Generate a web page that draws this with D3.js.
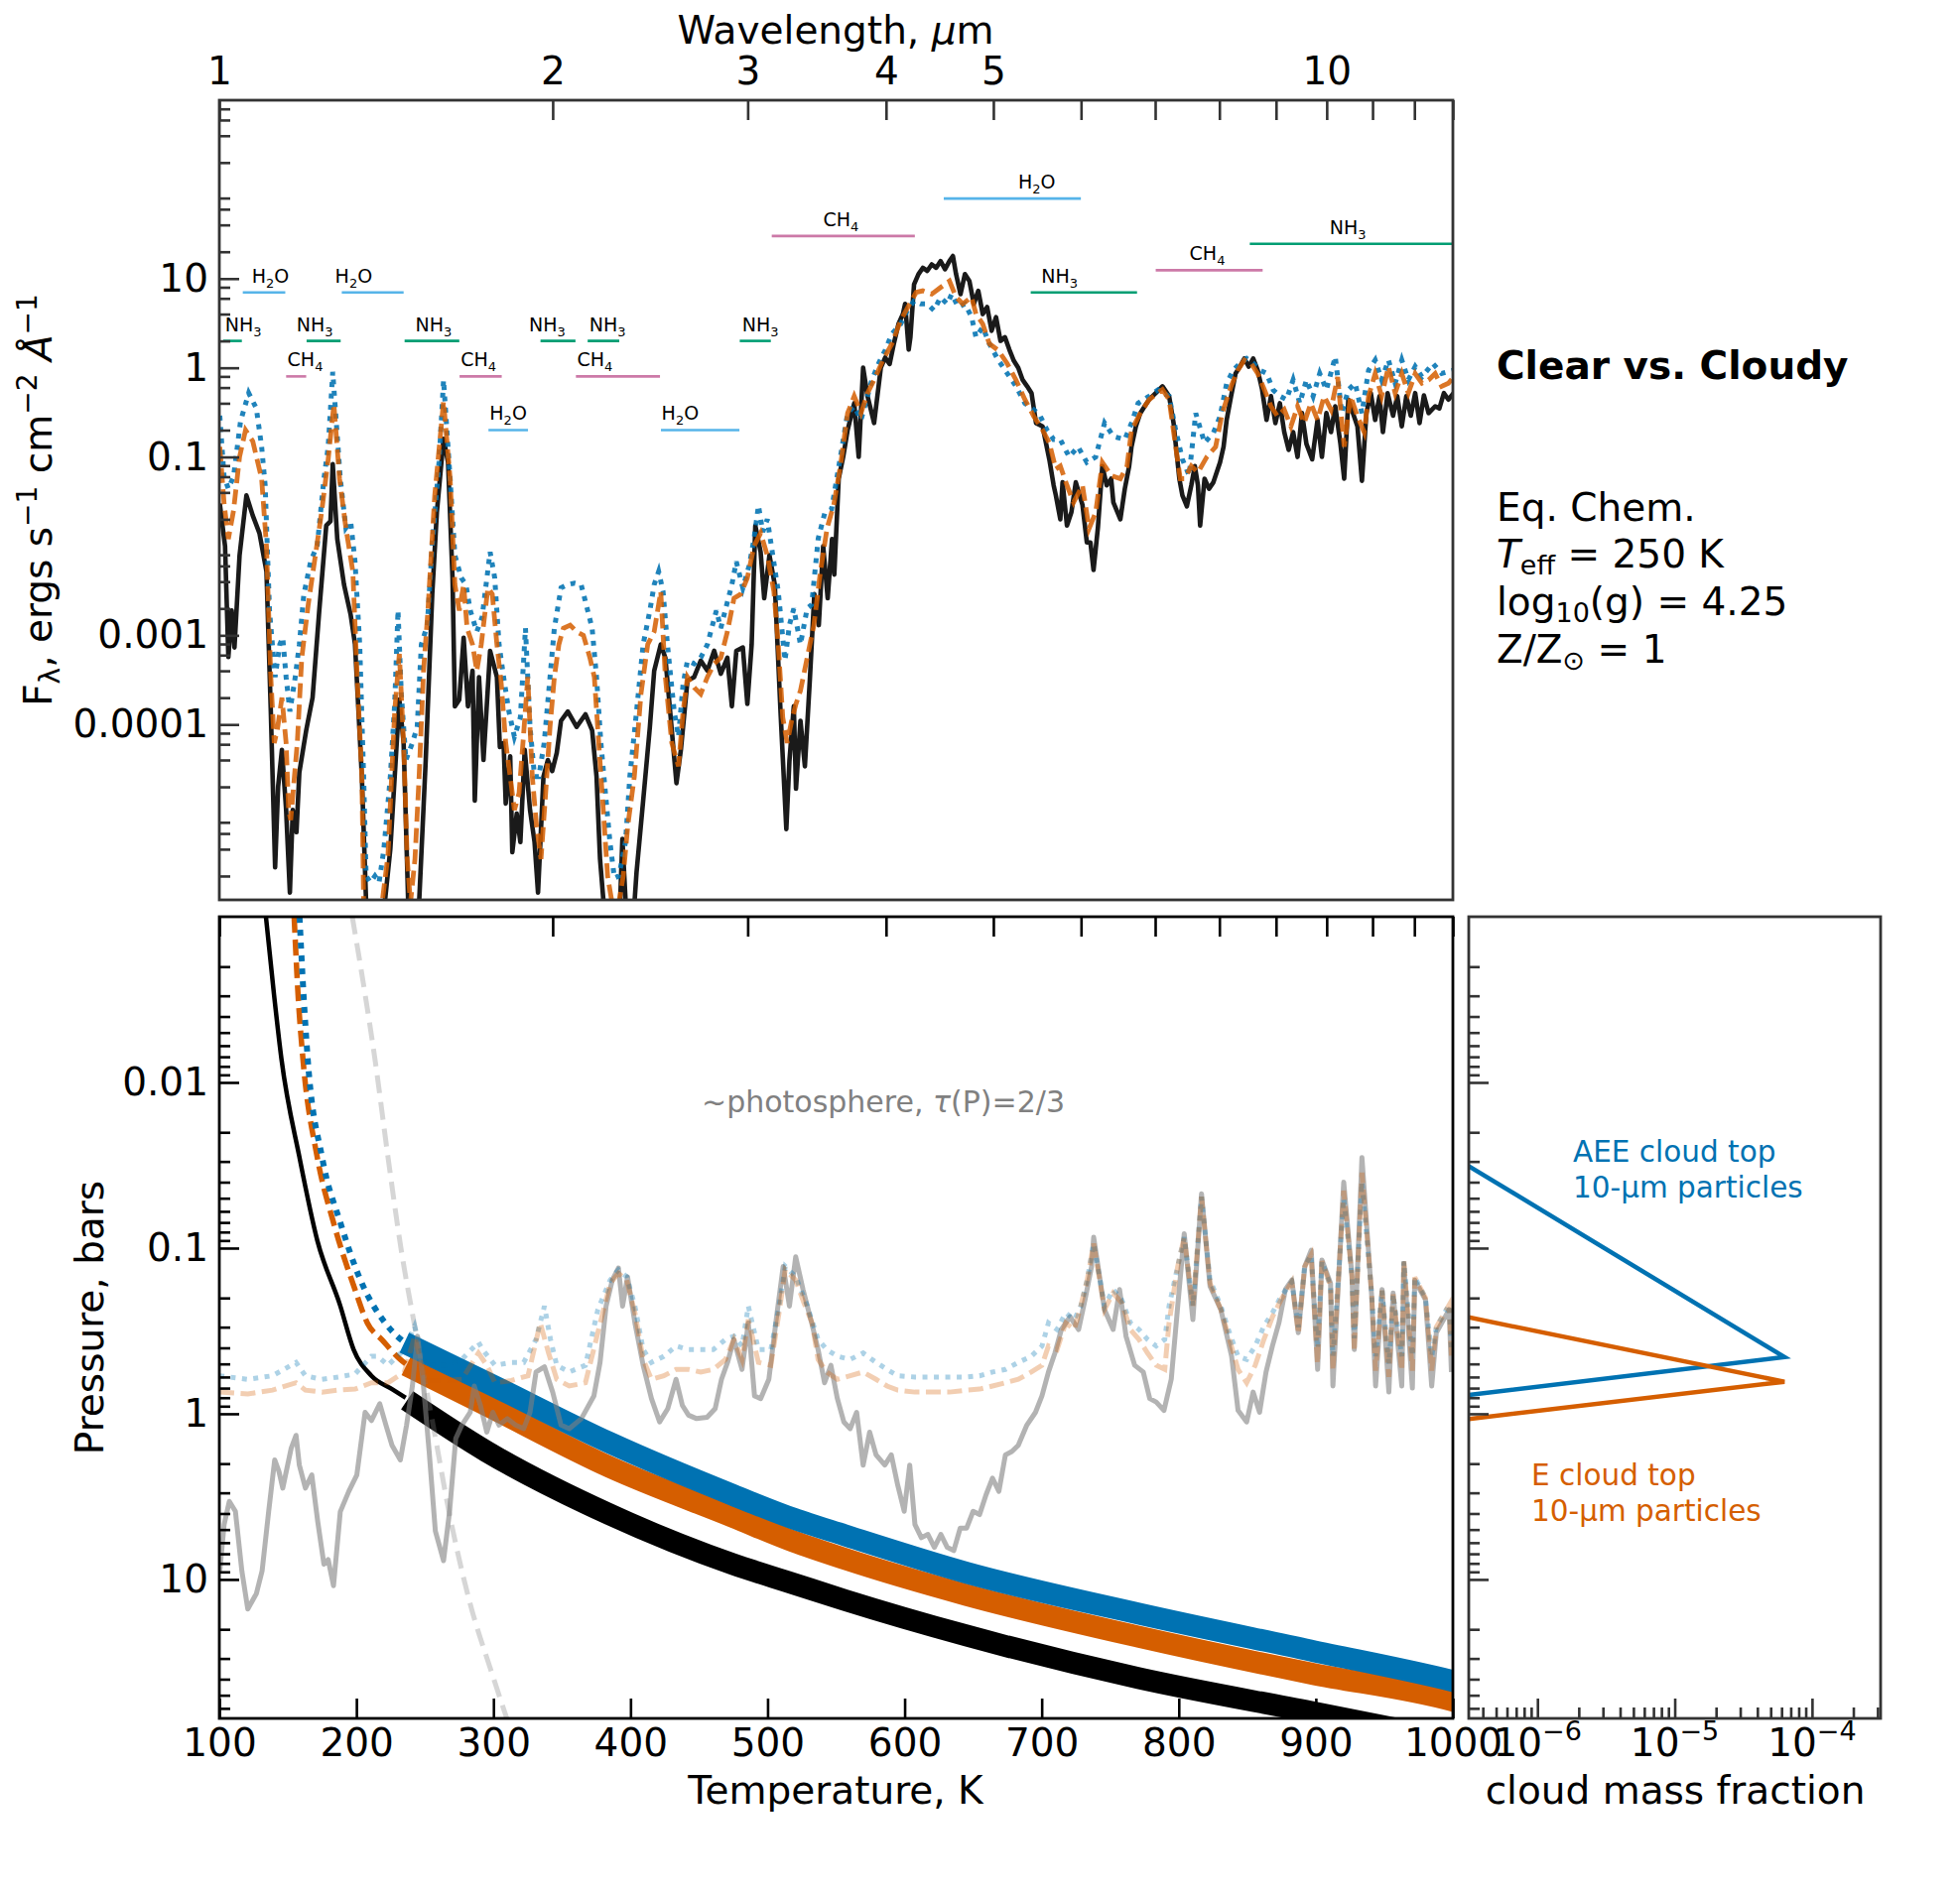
<!DOCTYPE html>
<html>
<head>
<meta charset="utf-8">
<script src="https://cdn.jsdelivr.net/npm/d3@7"></script>
<style>
body { margin: 0; background: #fff; }
text { font-family: "DejaVu Sans", sans-serif; }
</style>
</head>
<body>
<svg width="1975" height="1910"></svg>
<script>
// ---------- data ----------
// emergent spectra: [wavelength um, F_lambda]
var specClear = [[1.001,0.030],[1.012,0.010],[1.019,5.7e-4],[1.026,1.9e-3],[1.032,7.3e-4],[1.043,7.9e-3],[1.058,0.037],[1.072,0.022],[1.087,0.014],[1.103,5.2e-3],[1.113,1.4e-4],[1.123,2.5e-6],[1.130,2.0e-5],[1.139,5.2e-5],[1.149,1.1e-5],[1.158,1.3e-6],[1.165,1.1e-5],[1.174,6.2e-6],[1.181,2.9e-5],[1.198,8.6e-5],[1.214,2.0e-4],[1.231,1.9e-3],[1.249,0.017],[1.260,0.019],[1.266,0.083],[1.278,0.012],[1.296,3.7e-3],[1.314,1.7e-3],[1.326,7.9e-4],[1.345,2.6e-5],[1.357,1.0e-6],[1.400,4e-7],[1.427,4.0e-6],[1.454,1.9e-4],[1.467,6.2e-5],[1.481,1.0e-6],[1.500,4e-7],[1.515,1.0e-6],[1.536,4.0e-5],[1.557,2.9e-3],[1.572,0.024],[1.594,0.16],[1.609,0.087],[1.624,4.4e-3],[1.632,1.6e-4],[1.647,1.9e-4],[1.662,9.4e-4],[1.677,1.6e-4],[1.693,4.0e-4],[1.701,1.4e-5],[1.716,3.4e-4],[1.732,4.0e-5],[1.756,6.7e-4],[1.781,3.4e-4],[1.792,5.6e-5],[1.806,6.2e-5],[1.814,1.3e-5],[1.831,4.4e-5],[1.839,3.7e-6],[1.856,1.0e-5],[1.870,4.8e-6],[1.887,5.2e-5],[1.908,1.1e-5],[1.926,4.8e-6],[1.940,1.3e-6],[1.962,2.6e-5],[1.980,4.0e-5],[1.998,3.0e-5],[2.017,4.8e-5],[2.035,1.1e-4],[2.064,1.4e-4],[2.102,9.4e-5],[2.141,1.3e-4],[2.171,8.6e-5],[2.191,2.6e-5],[2.207,3.1e-6],[2.222,1.1e-6],[2.253,4e-7],[2.295,4e-7],[2.312,5.2e-6],[2.327,1.1e-6],[2.359,4e-7],[2.381,2.2e-6],[2.414,1.4e-5],[2.448,9.4e-5],[2.470,4.0e-4],[2.504,7.9e-4],[2.528,5.6e-4],[2.551,1.6e-4],[2.587,2.2e-5],[2.611,5.2e-5],[2.647,3.1e-4],[2.684,3.4e-4],[2.721,5.2e-4],[2.759,4.0e-4],[2.798,6.7e-4],[2.837,3.7e-4],[2.876,5.6e-4],[2.903,1.6e-4],[2.930,6.7e-4],[2.970,7.3e-4],[2.998,1.7e-4],[3.025,7.9e-4],[3.048,0.017],[3.082,8.6e-3],[3.105,2.6e-3],[3.139,7.9e-3],[3.174,3.7e-3],[3.212,1.4e-4],[3.251,6.7e-6],[3.272,3.9e-5],[3.302,1.6e-4],[3.317,1.9e-5],[3.348,1.1e-4],[3.379,3.4e-5],[3.415,3.4e-4],[3.446,2.9e-3],[3.478,1.3e-3],[3.510,0.010],[3.543,2.6e-3],[3.575,0.012],[3.592,4.8e-3],[3.625,0.057],[3.659,0.10],[3.693,0.20],[3.744,0.40],[3.779,0.10],[3.814,1.0],[3.849,0.48],[3.902,0.24],[3.957,1.0],[3.993,1.3],[4.030,1.1],[4.067,1.9],[4.105,3.1],[4.143,4.0],[4.162,5.2],[4.193,1.6],[4.208,2.2],[4.240,8.6],[4.279,11.2],[4.318,13.2],[4.358,12.2],[4.399,14.4],[4.439,13.2],[4.480,15.7],[4.522,12.7],[4.564,15.7],[4.597,17.9],[4.627,11.2],[4.670,6.7],[4.713,11.2],[4.757,9.4],[4.801,5.2],[4.846,7.3],[4.891,4.0],[4.936,4.8],[4.982,2.6],[5.028,3.7],[5.075,2.0],[5.122,2.2],[5.169,1.6],[5.217,1.2],[5.266,1.0],[5.314,0.73],[5.364,0.62],[5.413,0.52],[5.464,0.24],[5.539,0.22],[5.617,0.094],[5.668,0.048],[5.694,0.037],[5.747,0.020],[5.774,0.052],[5.827,0.017],[5.881,0.024],[5.935,0.052],[6.018,0.029],[6.073,0.011],[6.118,0.011],[6.158,5.4e-3],[6.214,0.016],[6.272,0.079],[6.329,0.048],[6.388,0.057],[6.417,0.031],[6.511,0.020],[6.572,0.044],[6.632,0.079],[6.664,0.13],[6.725,0.22],[6.787,0.31],[6.849,0.37],[6.913,0.44],[7.009,0.52],[7.107,0.62],[7.206,0.48],[7.273,0.24],[7.320,0.11],[7.361,0.057],[7.408,0.037],[7.477,0.028],[7.546,0.048],[7.602,0.079],[7.651,0.048],[7.686,0.017],[7.757,0.057],[7.829,0.044],[7.901,0.052],[8.011,0.087],[8.070,0.13],[8.122,0.26],[8.197,0.48],[8.273,0.86],[8.349,1.03],[8.426,1.27],[8.505,1.03],[8.583,1.27],[8.663,0.94],[8.743,0.57],[8.824,0.26],[8.906,0.48],[8.988,0.24],[9.072,0.40],[9.155,0.19],[9.240,0.12],[9.326,0.19],[9.412,0.10],[9.499,0.31],[9.587,0.14],[9.703,0.094],[9.811,0.26],[9.901,0.10],[9.993,0.31],[10.09,0.19],[10.18,0.37],[10.29,0.14],[10.37,0.057],[10.46,0.44],[10.56,0.31],[10.66,0.22],[10.76,0.054],[10.86,0.31],[10.96,0.52],[11.06,0.26],[11.16,0.48],[11.24,0.19],[11.35,0.52],[11.48,0.29],[11.58,0.48],[11.69,0.22],[11.80,0.48],[11.91,0.29],[12.02,0.52],[12.13,0.24],[12.24,0.49],[12.36,0.31],[12.53,0.37],[12.64,0.35],[12.76,0.52],[12.88,0.44],[13.02,0.52]];

var specE = [[1.001,0.13],[1.010,0.03],[1.019,0.012],[1.030,0.025],[1.043,0.10],[1.056,0.20],[1.072,0.15],[1.092,0.057],[1.103,0.010],[1.113,3.4e-4],[1.121,6.2e-5],[1.128,8.6e-5],[1.139,2.0e-4],[1.149,6.2e-5],[1.155,1.1e-5],[1.160,8.5e-6],[1.169,2.6e-5],[1.176,6.2e-5],[1.187,5.6e-4],[1.203,2.2e-3],[1.220,7.3e-3],[1.237,0.024],[1.254,0.094],[1.269,0.39],[1.284,0.057],[1.301,0.016],[1.320,5.2e-3],[1.332,3.4e-4],[1.345,2.6e-5],[1.350,1.0e-6],[1.390,4e-7],[1.420,3.4e-6],[1.440,1.4e-4],[1.454,6.2e-4],[1.467,6.2e-5],[1.478,3.1e-6],[1.488,1.0e-6],[1.502,3.1e-6],[1.515,2.6e-5],[1.529,4.0e-4],[1.543,1.9e-3],[1.565,0.037],[1.594,0.42],[1.616,0.057],[1.632,3.7e-3],[1.647,1.9e-3],[1.662,3.7e-3],[1.674,1.2e-3],[1.693,7.9e-4],[1.708,4.0e-4],[1.724,7.9e-4],[1.748,3.4e-3],[1.764,2.9e-3],[1.781,7.9e-4],[1.797,2.9e-4],[1.814,6.2e-5],[1.831,2.6e-5],[1.847,1.1e-5],[1.865,1.7e-5],[1.882,7.3e-5],[1.899,3.4e-4],[1.917,2.6e-5],[1.934,7.3e-6],[1.952,3.1e-6],[1.971,1.7e-5],[1.989,9.4e-5],[2.007,3.4e-4],[2.026,7.9e-4],[2.045,1.2e-3],[2.074,1.3e-3],[2.102,1.1e-3],[2.132,1.0e-3],[2.161,5.6e-4],[2.181,3.4e-4],[2.201,6.2e-5],[2.222,1.1e-5],[2.242,2.0e-6],[2.263,1.0e-6],[2.295,1.0e-6],[2.316,2.0e-6],[2.338,7.3e-6],[2.370,2.6e-5],[2.403,2.2e-4],[2.437,7.9e-4],[2.470,1.1e-3],[2.504,3.1e-3],[2.528,3.4e-4],[2.562,6.2e-5],[2.598,3.4e-5],[2.623,1.4e-4],[2.647,3.4e-4],[2.684,2.6e-4],[2.721,2.2e-4],[2.759,3.4e-4],[2.798,4.8e-4],[2.837,5.6e-4],[2.876,1.1e-3],[2.916,2.6e-3],[2.957,2.9e-3],[2.998,4.4e-3],[3.040,0.010],[3.082,0.014],[3.125,7.9e-3],[3.168,3.1e-3],[3.197,7.9e-4],[3.227,1.2e-4],[3.257,6.2e-5],[3.287,1.1e-4],[3.317,1.7e-4],[3.348,2.4e-4],[3.395,5.6e-4],[3.443,1.3e-3],[3.490,5.2e-3],[3.539,0.016],[3.588,0.029],[3.638,0.079],[3.693,0.31],[3.744,0.48],[3.797,0.31],[3.849,0.52],[3.902,0.73],[3.975,1.22],[4.049,1.86],[4.124,3.4],[4.201,5.2],[4.259,7.0],[4.318,7.3],[4.399,6.7],[4.480,7.95],[4.564,9.4],[4.627,6.2],[4.692,5.2],[4.779,6.2],[4.823,4.0],[4.891,3.1],[4.959,1.86],[5.051,1.57],[5.145,1.12],[5.241,0.73],[5.339,0.44],[5.439,0.285],[5.539,0.20],[5.617,0.144],[5.694,0.073],[5.747,0.079],[5.827,0.048],[5.908,0.031],[6.018,0.048],[6.101,0.0157],[6.186,0.024],[6.272,0.087],[6.388,0.062],[6.511,0.057],[6.602,0.079],[6.664,0.20],[6.787,0.31],[6.913,0.44],[7.107,0.57],[7.206,0.44],[7.305,0.13],[7.375,0.057],[7.442,0.057],[7.546,0.079],[7.651,0.067],[7.793,0.10],[7.938,0.13],[8.048,0.31],[8.197,0.62],[8.313,0.94],[8.426,1.22],[8.545,1.12],[8.663,0.86],[8.784,0.57],[8.906,0.37],[9.030,0.285],[9.155,0.34],[9.283,0.22],[9.412,0.37],[9.543,0.24],[9.676,0.40],[9.811,0.26],[9.947,0.48],[10.09,0.34],[10.23,0.79],[10.37,0.13],[10.51,0.48],[10.66,0.285],[10.81,0.19],[10.91,0.48],[11.06,0.86],[11.21,0.48],[11.37,1.03],[11.53,0.52],[11.69,0.86],[11.85,0.52],[12.02,0.86],[12.19,0.67],[12.36,0.73],[12.53,0.86],[12.70,0.62],[12.88,0.67],[13.02,0.79]];

var specAEE = [[1.001,0.29],[1.010,0.06],[1.019,0.044],[1.030,0.06],[1.045,0.25],[1.063,0.52],[1.080,0.35],[1.092,0.13],[1.100,0.048],[1.110,1.9e-3],[1.123,3.4e-4],[1.134,7.9e-4],[1.141,9.4e-4],[1.149,3.4e-4],[1.158,1.4e-4],[1.171,3.4e-4],[1.181,7.9e-4],[1.192,2.85e-3],[1.209,6.7e-3],[1.226,0.0103],[1.243,0.057],[1.254,0.13],[1.266,0.90],[1.286,0.057],[1.301,0.016],[1.314,0.019],[1.326,6.7e-3],[1.339,7.9e-4],[1.350,2.6e-5],[1.357,2.0e-6],[1.369,1.7e-6],[1.382,2.0e-6],[1.394,1.7e-6],[1.408,4.0e-6],[1.427,2.6e-5],[1.440,1.7e-4],[1.450,1.9e-3],[1.460,2.2e-4],[1.474,4.0e-5],[1.494,6.2e-5],[1.509,9.4e-5],[1.522,7.9e-4],[1.541,1.3e-3],[1.557,0.0103],[1.579,0.087],[1.594,0.73],[1.616,0.057],[1.632,7.9e-3],[1.654,4.4e-3],[1.670,3.7e-3],[1.685,1.9e-3],[1.708,1.1e-3],[1.727,1.6e-3],[1.756,8.6e-3],[1.773,4.4e-3],[1.789,7.9e-4],[1.806,3.4e-4],[1.826,1.4e-4],[1.847,7.3e-5],[1.870,1.2e-4],[1.890,1.2e-3],[1.908,9.4e-5],[1.926,2.6e-5],[1.943,2.6e-5],[1.965,6.2e-5],[1.989,3.4e-4],[2.007,1.2e-3],[2.035,3.4e-3],[2.064,3.7e-3],[2.093,3.85e-3],[2.122,3.7e-3],[2.151,1.9e-3],[2.171,1.2e-3],[2.191,3.4e-4],[2.211,6.2e-5],[2.232,1.7e-5],[2.253,4.8e-6],[2.274,1.9e-6],[2.295,2.0e-6],[2.327,4.8e-6],[2.348,2.6e-5],[2.381,1.4e-4],[2.414,7.9e-4],[2.448,1.9e-3],[2.470,3.7e-3],[2.493,5.2e-3],[2.516,3.1e-3],[2.539,7.9e-4],[2.575,1.4e-4],[2.598,7.3e-5],[2.623,2.85e-4],[2.647,5.2e-4],[2.684,4.8e-4],[2.721,5.6e-4],[2.759,7.9e-4],[2.811,1.9e-3],[2.837,1.2e-3],[2.863,1.9e-3],[2.903,3.7e-3],[2.930,6.7e-3],[2.970,3.4e-3],[3.011,6.2e-3],[3.040,0.0122],[3.068,0.0285],[3.096,0.0144],[3.125,0.020],[3.154,9.4e-3],[3.197,3.1e-3],[3.242,5.2e-4],[3.272,1.3e-3],[3.302,2.0e-3],[3.348,7.9e-4],[3.395,2.0e-3],[3.427,2.2e-3],[3.474,0.0122],[3.523,0.024],[3.572,0.026],[3.638,0.10],[3.693,0.31],[3.744,0.37],[3.797,0.26],[3.849,0.48],[3.884,0.73],[3.939,1.12],[3.993,1.57],[4.049,2.4],[4.124,3.1],[4.181,4.4],[4.240,5.6],[4.298,5.2],[4.358,5.2],[4.419,4.4],[4.480,6.15],[4.543,5.2],[4.585,6.7],[4.648,4.8],[4.713,5.2],[4.779,3.7],[4.823,2.2],[4.891,2.85],[4.959,1.86],[5.051,1.22],[5.145,0.87],[5.241,0.62],[5.339,0.40],[5.439,0.34],[5.514,0.285],[5.591,0.20],[5.668,0.157],[5.747,0.157],[5.854,0.10],[5.963,0.13],[6.073,0.087],[6.186,0.10],[6.301,0.24],[6.417,0.17],[6.572,0.157],[6.664,0.24],[6.756,0.40],[6.913,0.48],[7.041,0.565],[7.206,0.48],[7.305,0.20],[7.408,0.094],[7.512,0.062],[7.616,0.31],[7.757,0.144],[7.901,0.186],[8.011,0.285],[8.122,0.67],[8.235,0.94],[8.349,1.12],[8.466,1.27],[8.583,1.12],[8.703,0.94],[8.824,0.865],[8.947,0.565],[9.072,0.48],[9.197,0.44],[9.326,0.73],[9.456,0.40],[9.587,0.73],[9.721,0.48],[9.856,0.865],[9.993,0.565],[10.18,1.33],[10.32,0.31],[10.46,0.565],[10.61,0.67],[10.76,0.31],[10.91,0.94],[11.06,1.22],[11.21,0.73],[11.37,1.22],[11.53,0.67],[11.69,1.22],[11.85,0.73],[12.02,1.03],[12.19,0.79],[12.47,1.12],[12.70,0.865],[13.02,0.94]];

// molecular band markers
var bandMol   = ["NH3","H2O","CH4","NH3","H2O","NH3","CH4","H2O","NH3","NH3","CH4","H2O","NH3","CH4","H2O","NH3","CH4","NH3"];
var bandStart = [1.008,1.050,1.149,1.199,1.290,1.470,1.648,1.750,1.950,2.151,2.099,2.505,2.951,3.154,4.510,5.404,7.008,8.522];
var bandEnd   = [1.048,1.147,1.198,1.287,1.467,1.647,1.799,1.900,2.097,2.297,2.500,2.949,3.148,4.247,5.998,6.741,8.753,13.02];
var bandFlux  = [2.0,7.0,0.80,2.0,7.0,2.0,0.80,0.20,2.0,2.0,0.80,0.20,2.0,30,79,7.0,12.4,24.5];
var bandLabelWave = [1.012,1.070,1.152,1.174,1.272,1.503,1.652,1.754,1.904,2.158,2.104,2.508,2.965,3.510,5.265,5.525,7.518,10.06];
var molColor = {H2O: "#56B4E9", NH3: "#009E73", CH4: "#CC79A7"};

// P-T profiles: [T K, P bar]
var ptClearRad  = [[134,0.001],[140,0.003],[145.3,0.0072],[158.5,0.0284],[171.5,0.09],[188,0.22],[198,0.41],[211,0.59],[226,0.71],[236,0.80]];
var ptClearConv = [[237,0.83],[295,1.69],[385,4.06],[475,8.1],[519,10.6],[556,13.3],[645,21.8],[771,39.5],[896,63],[960,80]];
var ptERad      = [[154.6,0.001],[157.5,0.003],[161,0.0072],[171.5,0.0284],[183.5,0.071],[199,0.178],[208,0.283],[219,0.36],[232,0.47],[236,0.5]];
var ptEConv     = [[236.5,0.51],[295,0.89],[385,2.1],[475,4.2],[519,5.9],[556,7.5],[645,12.4],[771,22.2],[896,36.9],[1000,54],[1010,57]];
var ptAEERad    = [[158.5,0.001],[161.5,0.003],[164.5,0.0072],[175,0.0284],[188.5,0.071],[203,0.156],[221,0.283],[229.6,0.34],[235,0.37]];
var ptAEEConv   = [[235,0.372],[295,0.647],[385,1.5],[475,3.1],[519,4.3],[556,5.4],[645,9.1],[771,16.1],[896,26.8],[1000,41],[1010,43]];
var condCurve   = [[197,0.001],[205,0.0025],[213.5,0.0072],[223,0.028],[232.5,0.1],[243,0.31],[256,1.17],[268,4.06],[283,14],[298,35],[310,70]];

// tau = 2/3 pressure vs wavelength: [um, bar]
var photoClear = [[1.001,8.9],[1.010,4.67],[1.021,3.38],[1.034,3.88],[1.048,8.9],[1.061,15.1],[1.080,12.2],[1.093,8.9],[1.108,3.9],[1.122,1.90],[1.132,2.23],[1.141,2.81],[1.161,1.62],[1.173,1.35],[1.181,2.04],[1.196,2.81],[1.212,2.34],[1.227,4.46],[1.243,8.1],[1.254,7.6],[1.268,10.9],[1.286,3.9],[1.309,2.94],[1.331,2.34],[1.354,0.98],[1.372,1.10],[1.396,0.87],[1.414,1.17],[1.432,1.55],[1.457,1.90],[1.476,1.17],[1.494,0.68],[1.510,0.34],[1.527,0.62],[1.547,1.69],[1.567,5.1],[1.594,7.7],[1.614,3.9],[1.635,1.41],[1.656,1.17],[1.685,0.98],[1.699,0.68],[1.721,0.89],[1.744,1.29],[1.766,0.98],[1.789,1.17],[1.820,1.07],[1.851,1.17],[1.883,1.23],[1.908,0.98],[1.932,0.56],[1.966,0.52],[2.000,0.74],[2.035,1.17],[2.070,1.23],[2.123,1.07],[2.179,0.78],[2.207,0.49],[2.235,0.224],[2.264,0.156],[2.293,0.132],[2.313,0.224],[2.337,0.149],[2.373,0.283],[2.414,0.51],[2.456,0.81],[2.498,1.12],[2.541,0.93],[2.585,0.62],[2.619,0.89],[2.653,1.02],[2.698,1.07],[2.757,1.05],[2.804,0.93],[2.841,0.62],[2.877,0.49],[2.915,0.356],[2.965,0.54],[3.004,0.283],[3.043,0.78],[3.082,0.81],[3.135,0.62],[3.189,0.246],[3.230,0.129],[3.272,0.224],[3.315,0.113],[3.366,0.178],[3.427,0.283],[3.473,0.41],[3.520,0.65],[3.567,0.51],[3.615,0.81],[3.664,1.12],[3.713,1.23],[3.763,0.98],[3.814,2.04],[3.866,1.29],[3.918,1.77],[3.990,2.04],[4.044,1.77],[4.098,2.69],[4.154,3.88],[4.202,2.04],[4.248,4.67],[4.305,5.6],[4.364,5.35],[4.423,6.4],[4.483,5.35],[4.543,6.4],[4.605,6.7],[4.667,4.9],[4.730,4.9],[4.794,3.88],[4.859,4.06],[4.925,3.08],[4.991,2.45],[5.058,2.94],[5.127,1.77],[5.196,1.69],[5.266,1.55],[5.361,1.17],[5.458,0.98],[5.532,0.78],[5.607,0.56],[5.683,0.43],[5.760,0.31],[5.864,0.26],[5.970,0.31],[6.050,0.205],[6.133,0.129],[6.160,0.086],[6.300,0.235],[6.414,0.31],[6.501,0.178],[6.588,0.34],[6.708,0.51],[6.829,0.56],[6.921,0.81],[7.015,0.85],[7.129,0.955],[7.238,0.62],[7.336,0.224],[7.436,0.082],[7.571,0.27],[7.708,0.047],[7.846,0.17],[8.024,0.235],[8.206,0.45],[8.317,0.955],[8.467,1.12],[8.581,0.74],[8.697,0.98],[8.815,0.56],[8.933,0.39],[9.054,0.283],[9.177,0.178],[9.301,0.156],[9.426,0.324],[9.555,0.129],[9.683,0.103],[9.813,0.54],[9.901,0.118],[10.08,0.163],[10.13,0.68],[10.36,0.040],[10.54,0.148],[10.59,0.41],[10.76,0.0284],[10.98,0.195],[11.07,0.68],[11.22,0.178],[11.38,0.74],[11.48,0.187],[11.69,0.68],[11.74,0.124],[11.95,0.70],[12.01,0.156],[12.28,0.205],[12.44,0.68],[12.56,0.324],[12.90,0.235],[12.96,0.56]];

var photoAEE = [[1.000,0.59],[1.061,0.62],[1.117,0.59],[1.173,0.49],[1.196,0.59],[1.238,0.62],[1.281,0.60],[1.326,0.575],[1.372,0.45],[1.390,0.45],[1.420,0.51],[1.469,0.41],[1.501,0.296],[1.533,0.51],[1.601,0.51],[1.656,0.47],[1.714,0.37],[1.729,0.41],[1.774,0.51],[1.835,0.49],[1.883,0.49],[1.932,0.356],[1.966,0.224],[1.991,0.356],[2.017,0.51],[2.070,0.56],[2.141,0.51],[2.197,0.235],[2.254,0.156],[2.293,0.135],[2.333,0.149],[2.373,0.224],[2.414,0.41],[2.456,0.49],[2.520,0.45],[2.585,0.39],[2.653,0.41],[2.721,0.41],[2.793,0.41],[2.865,0.356],[2.915,0.34],[2.965,0.39],[3.004,0.224],[3.068,0.41],[3.148,0.41],[3.202,0.224],[3.244,0.129],[3.315,0.149],[3.396,0.224],[3.473,0.356],[3.536,0.41],[3.615,0.45],[3.713,0.47],[3.814,0.43],[3.918,0.49],[4.008,0.54],[4.098,0.59],[4.248,0.60],[4.403,0.60],[4.563,0.60],[4.730,0.60],[4.859,0.59],[4.991,0.56],[5.127,0.54],[5.266,0.49],[5.410,0.45],[5.532,0.39],[5.607,0.283],[5.708,0.31],[5.812,0.246],[5.917,0.27],[5.997,0.224],[6.077,0.156],[6.160,0.094],[6.300,0.224],[6.414,0.178],[6.530,0.205],[6.648,0.283],[6.768,0.31],[6.890,0.356],[7.015,0.39],[7.141,0.356],[7.205,0.224],[7.336,0.129],[7.436,0.086],[7.571,0.224],[7.708,0.049],[7.846,0.156],[8.024,0.224],[8.169,0.324],[8.317,0.45],[8.467,0.47],[8.619,0.39],[8.776,0.296],[8.933,0.246],[9.095,0.195],[9.30,0.16],[9.43,0.30],[9.55,0.13],[9.68,0.11],[9.81,0.40],[9.90,0.12],[10.08,0.17],[10.13,0.45],[10.36,0.05],[10.54,0.15],[10.59,0.35],[10.76,0.04],[10.98,0.19],[11.07,0.45],[11.22,0.18],[11.38,0.50],[11.48,0.19],[11.69,0.45],[11.74,0.12],[11.95,0.45],[12.01,0.15],[12.28,0.20],[12.44,0.45],[12.56,0.30],[12.90,0.22],[12.96,0.40]];

var photoE = [[1.000,0.74],[1.061,0.76],[1.117,0.72],[1.173,0.65],[1.196,0.72],[1.238,0.74],[1.281,0.72],[1.326,0.71],[1.372,0.65],[1.420,0.65],[1.469,0.56],[1.501,0.34],[1.533,0.63],[1.601,0.63],[1.656,0.62],[1.714,0.43],[1.744,0.51],[1.774,0.65],[1.835,0.63],[1.900,0.59],[1.949,0.283],[1.983,0.43],[2.017,0.62],[2.070,0.68],[2.141,0.65],[2.197,0.324],[2.254,0.163],[2.293,0.142],[2.333,0.156],[2.373,0.246],[2.414,0.47],[2.456,0.62],[2.520,0.59],[2.585,0.54],[2.653,0.54],[2.721,0.56],[2.793,0.54],[2.865,0.47],[2.915,0.356],[2.965,0.47],[3.004,0.27],[3.068,0.49],[3.148,0.51],[3.202,0.246],[3.244,0.135],[3.315,0.156],[3.372,0.214],[3.430,0.283],[3.473,0.47],[3.536,0.56],[3.615,0.62],[3.713,0.59],[3.814,0.56],[3.918,0.62],[4.008,0.68],[4.098,0.72],[4.248,0.74],[4.403,0.74],[4.563,0.74],[4.730,0.72],[4.859,0.71],[4.991,0.68],[5.127,0.65],[5.266,0.62],[5.410,0.56],[5.532,0.51],[5.607,0.39],[5.708,0.41],[5.812,0.283],[5.917,0.31],[5.997,0.224],[6.077,0.156],[6.160,0.094],[6.300,0.235],[6.414,0.187],[6.530,0.214],[6.648,0.31],[6.768,0.356],[6.890,0.43],[7.015,0.51],[7.141,0.54],[7.205,0.283],[7.336,0.129],[7.436,0.086],[7.571,0.224],[7.708,0.049],[7.846,0.163],[8.024,0.235],[8.169,0.356],[8.317,0.54],[8.467,0.65],[8.619,0.51],[8.776,0.356],[8.933,0.26],[9.095,0.205],[9.30,0.16],[9.43,0.33],[9.55,0.13],[9.68,0.11],[9.81,0.50],[9.90,0.12],[10.08,0.17],[10.13,0.55],[10.36,0.045],[10.54,0.15],[10.59,0.42],[10.76,0.035],[10.98,0.19],[11.07,0.55],[11.22,0.18],[11.38,0.60],[11.48,0.19],[11.69,0.55],[11.74,0.12],[11.95,0.55],[12.01,0.15],[12.28,0.20],[12.44,0.55],[12.56,0.30],[12.90,0.22],[12.96,0.45]];

// cloud mass fraction profiles: [mass fraction, P bar]
var cloudAEE = [[3.16e-7,0.032],[6.3e-5,0.455],[3.16e-7,0.77]];
var cloudE   = [[3.16e-7,0.262],[6.3e-5,0.641],[3.16e-7,1.076]];

// tick values / labels
var waveTicks  = [1,2,3,4,5,6,7,8,9,10,11,12,13];
var waveLabels = [1,2,3,4,5,10];
var fluxTicks  = [10,1,0.1,0.001,0.0001];
var fluxTickText = ["10","1","0.1","0.001","0.0001"];
var presTicks  = [0.01,0.1,1,10];
var presTickText = ["0.01","0.1","1","10"];
var tempTicks  = [100,200,300,400,500,600,700,800,900,1000];
var cloudTicks = [1e-6,1e-5,1e-4];
var cloudTickExp = ["\u22126","\u22125","\u22124"];

// ---------- scales ----------
var xWave  = d3.scaleLog().domain([1, 13]).range([221, 1464]);
var yFlux  = d3.scaleLog().domain([1.08e-6, 1000]).range([907, 101]);
var xTemp  = d3.scaleLinear().domain([100, 1000]).range([221, 1464]);
var yPres  = d3.scaleLog().domain([1e-3, 69]).range([924, 1732]);
var xCloud = d3.scaleLog().domain([3.16e-7, 3.16e-4]).range([1480, 1895]);

function logMinor(lo, hi, subs) {
  var out = [];
  for (var k = -8; k <= 4; k++) {
    subs.forEach(function(m) {
      var v = m * Math.pow(10, k);
      if (v > lo * 1.0001 && v < hi * 0.9999) out.push(v);
    });
  }
  return out;
}

var svg = d3.select("svg");
svg.append("rect").attr("width", 1975).attr("height", 1910).attr("fill", "#fff");

var defs = svg.append("defs");
function clip(id, x0, y0, x1, y1) {
  defs.append("clipPath").attr("id", id).append("rect")
    .attr("x", x0).attr("y", y0).attr("width", x1 - x0).attr("height", y1 - y0);
}
clip("cTop", 221, 101, 1464, 907);
clip("cPT", 221, 924, 1464, 1732);
clip("cCloud", 1480, 924, 1895, 1732);

// sub/superscript helper: parts = [text, shift(px, + is down), size, style]
function rich(t, parts) {
  var cur = 0;
  parts.forEach(function(p) {
    var s = p[1] || 0;
    var ts = t.append("tspan").text(p[0]).attr("dy", s - cur);
    if (p[2]) ts.attr("font-size", p[2]);
    if (p[3]) ts.attr("font-style", p[3]);
    cur = s;
  });
}

// ---------- top panel: spectra ----------
var specLine = d3.line().x(function(d){return xWave(d[0])}).y(function(d){return yFlux(d[1])});
var gTop = svg.append("g").attr("clip-path", "url(#cTop)");

// band markers
bandMol.forEach(function(m, i) {
  gTop.append("line")
    .attr("x1", xWave(bandStart[i])).attr("x2", xWave(bandEnd[i]))
    .attr("y1", yFlux(bandFlux[i])).attr("y2", yFlux(bandFlux[i]))
    .attr("stroke", molColor[m]).attr("stroke-width", 2.6);
  var t = gTop.append("text")
    .attr("x", xWave(bandLabelWave[i])).attr("y", yFlux(bandFlux[i]) - 10)
    .attr("font-size", 19).attr("fill", "#000");
  var parts = [];
  m.split(/(\d)/).forEach(function(s) {
    if (s === "") return;
    if (/\d/.test(s)) parts.push([s, 5, 13]); else parts.push([s, 0]);
  });
  rich(t, parts);
});

gTop.append("path").datum(specClear).attr("d", specLine)
  .attr("fill", "none").attr("stroke", "#1a1a1a").attr("stroke-width", 4.6)
  .attr("stroke-linejoin", "round");
gTop.append("path").datum(specAEE).attr("d", specLine)
  .attr("fill", "none").attr("stroke", "#0072B2").attr("stroke-opacity", 0.88)
  .attr("stroke-width", 5).attr("stroke-dasharray", "5,6.5");
gTop.append("path").datum(specE).attr("d", specLine)
  .attr("fill", "none").attr("stroke", "#D55E00").attr("stroke-opacity", 0.85)
  .attr("stroke-width", 4.8).attr("stroke-dasharray", "15,6.5");

// ---------- bottom-left panel: P-T ----------
var ptLine = d3.line().x(function(d){return xTemp(d[0])}).y(function(d){return yPres(d[1])}).curve(d3.curveMonotoneX);
var photoLine = d3.line().x(function(d){return xWave(d[0])}).y(function(d){return yPres(d[1])});
var gPT = svg.append("g").attr("clip-path", "url(#cPT)");

gPT.append("path").datum(ptClearConv).attr("d", ptLine).attr("fill", "none")
  .attr("stroke", "#000").attr("stroke-width", 22);
gPT.append("path").datum(ptEConv).attr("d", ptLine).attr("fill", "none")
  .attr("stroke", "#D55E00").attr("stroke-width", 22);
gPT.append("path").datum(ptAEEConv).attr("d", ptLine).attr("fill", "none")
  .attr("stroke", "#0072B2").attr("stroke-width", 22);
gPT.append("path").datum(ptClearRad).attr("d", ptLine).attr("fill", "none")
  .attr("stroke", "#000").attr("stroke-width", 4.5);
gPT.append("path").datum(ptERad).attr("d", ptLine).attr("fill", "none")
  .attr("stroke", "#D55E00").attr("stroke-width", 5.5).attr("stroke-dasharray", "16,7");
gPT.append("path").datum(ptAEERad).attr("d", ptLine).attr("fill", "none")
  .attr("stroke", "#0072B2").attr("stroke-width", 6).attr("stroke-dasharray", "6,7");
gPT.append("path").datum(condCurve).attr("d", ptLine).attr("fill", "none")
  .attr("stroke", "#808080").attr("stroke-opacity", 0.32).attr("stroke-width", 5)
  .attr("stroke-dasharray", "18,9");

gPT.append("path").datum(photoClear).attr("d", photoLine).attr("fill", "none")
  .attr("stroke", "#808080").attr("stroke-opacity", 0.6).attr("stroke-width", 5)
  .attr("stroke-linejoin", "round");
gPT.append("path").datum(photoAEE).attr("d", photoLine).attr("fill", "none")
  .attr("stroke", "#0072B2").attr("stroke-opacity", 0.32).attr("stroke-width", 5)
  .attr("stroke-dasharray", "5,6.5");
gPT.append("path").datum(photoE).attr("d", photoLine).attr("fill", "none")
  .attr("stroke", "#D55E00").attr("stroke-opacity", 0.3).attr("stroke-width", 5)
  .attr("stroke-dasharray", "15,6.5");

var tp = svg.append("text").attr("x", 707).attr("y", 1121).attr("font-size", 30).attr("fill", "#808080");
rich(tp, [["~photosphere, ", 0], ["\u03C4", 0, null, "italic"], ["(P)=2/3", 0]]);

// ---------- right panel: cloud mass fraction ----------
var cloudLine = d3.line().x(function(d){return xCloud(d[0])}).y(function(d){return yPres(d[1])});
var gCl = svg.append("g").attr("clip-path", "url(#cCloud)");
gCl.append("path").datum(cloudAEE).attr("d", cloudLine).attr("fill", "none")
  .attr("stroke", "#0072B2").attr("stroke-width", 4.5);
gCl.append("path").datum(cloudE).attr("d", cloudLine).attr("fill", "none")
  .attr("stroke", "#D55E00").attr("stroke-width", 4.5);

[["AEE cloud top", 1585, 1171, "#0072B2"], ["10-\u03BCm particles", 1585, 1207, "#0072B2"],
 ["E cloud top", 1543, 1497, "#D55E00"], ["10-\u03BCm particles", 1543, 1533, "#D55E00"]]
  .forEach(function(a) {
    svg.append("text").attr("x", a[1]).attr("y", a[2]).attr("font-size", 29.5)
      .attr("fill", a[3]).text(a[0]);
  });

// ---------- axes ----------
function addAxis(axis, tx, ty, color) {
  var g = svg.append("g").attr("transform", "translate(" + tx + "," + ty + ")").call(axis);
  g.attr("font-size", 39).attr("font-family", "DejaVu Sans");
  g.select(".domain").remove();
  g.selectAll("line").attr("stroke", color).attr("stroke-width", 2.6);
  g.selectAll("text").attr("fill", "#000");
  return g;
}

// top panel
addAxis(d3.axisTop(xWave).tickValues(waveTicks).tickSize(-20).tickPadding(16)
  .tickFormat(function(d){ return waveLabels.indexOf(d) >= 0 ? String(d) : ""; }), 0, 101, "#333");
addAxis(d3.axisLeft(yFlux).tickValues(fluxTicks).tickSize(-20).tickPadding(11)
  .tickFormat(function(d){ return fluxTickText[fluxTicks.indexOf(d)]; }), 221, 0, "#333");
addAxis(d3.axisLeft(yFlux).tickValues(logMinor(1.08e-6, 1000, [2,4,6,8])).tickSize(-11)
  .tickFormat(""), 221, 0, "#333");

// bottom-left panel
addAxis(d3.axisTop(xWave).tickValues(waveTicks).tickSize(-20).tickFormat(""), 0, 924, "#000");
addAxis(d3.axisBottom(xTemp).tickValues(tempTicks).tickSize(-20).tickPadding(10)
  .tickFormat(function(d){ return String(d); }), 0, 1732, "#000");
addAxis(d3.axisLeft(yPres).tickValues(presTicks).tickSize(-20).tickPadding(11)
  .tickFormat(function(d){ return presTickText[presTicks.indexOf(d)]; }), 221, 0, "#000");
addAxis(d3.axisLeft(yPres).tickValues(logMinor(1e-3, 69, [2,3,4,5,6,7,8,9])).tickSize(-11)
  .tickFormat(""), 221, 0, "#000");

// right panel
addAxis(d3.axisLeft(yPres).tickValues(presTicks).tickSize(-20).tickFormat(""), 1480, 0, "#333");
addAxis(d3.axisLeft(yPres).tickValues(logMinor(1e-3, 69, [2,3,4,5,6,7,8,9])).tickSize(-11)
  .tickFormat(""), 1480, 0, "#333");
addAxis(d3.axisBottom(xCloud).tickValues(cloudTicks).tickSize(-20).tickFormat(""), 0, 1732, "#333");
addAxis(d3.axisBottom(xCloud).tickValues(logMinor(3.16e-7, 3.16e-4, [2,3,4,5,6,7,8,9])).tickSize(-11)
  .tickFormat(""), 0, 1732, "#333");
cloudTicks.forEach(function(v, i) {
  var t = svg.append("text").attr("x", xCloud(v)).attr("y", 1770)
    .attr("font-size", 39).attr("text-anchor", "middle");
  rich(t, [["10", 0], [cloudTickExp[i], -16, 27]]);
});

// frames
svg.append("rect").attr("x", 221).attr("y", 101).attr("width", 1243).attr("height", 806)
  .attr("fill", "none").attr("stroke", "#333").attr("stroke-width", 2.8);
svg.append("rect").attr("x", 221).attr("y", 924).attr("width", 1243).attr("height", 808)
  .attr("fill", "none").attr("stroke", "#000").attr("stroke-width", 2.8);
svg.append("rect").attr("x", 1480).attr("y", 924).attr("width", 415).attr("height", 808)
  .attr("fill", "none").attr("stroke", "#333").attr("stroke-width", 2.8);

// ---------- axis titles ----------
var t1 = svg.append("text").attr("x", 842).attr("y", 44).attr("font-size", 39).attr("text-anchor", "middle");
rich(t1, [["Wavelength, ", 0], ["\u03BC", 0, null, "italic"], ["m", 0]]);

var t2 = svg.append("text").attr("transform", "translate(52,504) rotate(-90)")
  .attr("font-size", 39).attr("text-anchor", "middle");
rich(t2, [["F", 0], ["\u03BB", 8, 28], [", ergs s", 0], ["\u22121", -15, 28], [" cm", 0],
          ["\u22122", -15, 28], [" \u00C5", 0, null, "italic"], ["\u22121", -15, 28]]);

svg.append("text").attr("transform", "translate(104,1328) rotate(-90)")
  .attr("font-size", 39).attr("text-anchor", "middle").text("Pressure, bars");
svg.append("text").attr("x", 842).attr("y", 1818).attr("font-size", 39)
  .attr("text-anchor", "middle").text("Temperature, K");
svg.append("text").attr("x", 1688).attr("y", 1818).attr("font-size", 39)
  .attr("text-anchor", "middle").text("cloud mass fraction");

// ---------- model description ----------
svg.append("text").attr("x", 1508).attr("y", 382).attr("font-size", 39)
  .attr("font-weight", "bold").text("Clear vs. Cloudy");
svg.append("text").attr("x", 1508).attr("y", 525).attr("font-size", 39).text("Eq. Chem.");
var d1 = svg.append("text").attr("x", 1508).attr("y", 572).attr("font-size", 39);
rich(d1, [["T", 0, null, "italic"], ["eff", 7, 27], [" = 250 K", 0]]);
var d2 = svg.append("text").attr("x", 1508).attr("y", 620).attr("font-size", 39);
rich(d2, [["log", 0], ["10", 7, 27], ["(g) = 4.25", 0]]);
var d3t = svg.append("text").attr("x", 1508).attr("y", 668).attr("font-size", 39);
rich(d3t, [["Z/Z", 0], ["\u2299", 7, 27], [" = 1", 0]]);
</script>
</body>
</html>
